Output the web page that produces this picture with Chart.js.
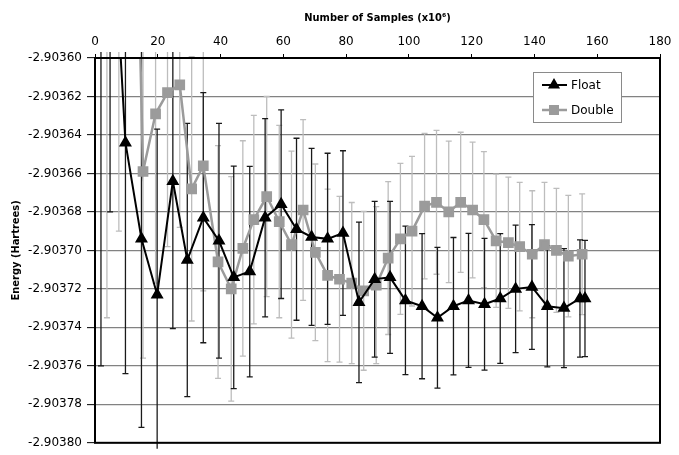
<!DOCTYPE html>
<html>
<head>
<meta charset="utf-8">
<script src="https://cdn.jsdelivr.net/npm/chart.js@4"></script>
<style>
  html, body { margin: 0; padding: 0; background: #fff; }
</style>
</head>
<body>
<canvas id="chart" width="679" height="455"></canvas>
<script>
// tick values
const xTicks = [0, 20, 40, 60, 80, 100, 120, 140, 160, 180];
const yTicks = [-2.90380, -2.90378, -2.90376, -2.90374, -2.90372, -2.90370,
                -2.90368, -2.90366, -2.90364, -2.90362, -2.90360];

// Float series (samples x10^6, energy, half error)
const floatX = [1.9, 4.8, 9.7, 14.8, 19.8, 24.8, 29.4, 34.5, 39.5, 44.2, 49.3,
  54.2, 59.3, 64.2, 69.0, 74.1, 79.0, 84.1, 89.1, 94.0, 98.9, 104.2, 109.1,
  114.2, 119.0, 124.1, 129.1, 134.0, 139.2, 144.1, 149.4, 154.5, 156.1];
const floatY = [-2.90345, -2.90350, -2.903644, -2.903694, -2.903723, -2.903664,
  -2.903705, -2.903683, -2.903695, -2.903714, -2.903711, -2.903683, -2.903676,
  -2.903689, -2.903693, -2.903694, -2.903691, -2.903727, -2.903715, -2.903714,
  -2.903726, -2.903729, -2.903735, -2.903729, -2.903726, -2.903728, -2.903725,
  -2.903720, -2.903719, -2.903729, -2.903730, -2.903725, -2.903725];
const floatErr = [31, 18, 12, 9.8, 8.6, 7.67, 7.1, 6.5, 6.1, 5.78, 5.47, 5.15,
  4.9, 4.73, 4.6, 4.45, 4.28, 4.17, 4.05, 3.95, 3.86, 3.77, 3.66, 3.57, 3.48,
  3.42, 3.37, 3.31, 3.24, 3.15, 3.09, 3.05, 3.02]; // x1e-5

// Double series
const doubleX = [3.8, 7.6, 11.5, 15.3, 19.3, 23.1, 27.0, 30.8, 34.5, 39.2, 43.4,
  47.1, 50.6, 54.7, 58.7, 62.6, 66.3, 70.2, 74.1, 77.9, 81.8, 85.6, 89.6, 93.4,
  97.3, 101.0, 105.0, 108.8, 112.7, 116.5, 120.3, 123.9, 127.8, 131.7, 135.3,
  139.3, 143.2, 147.0, 150.8, 155.2];
const doubleY = [-2.90345, -2.90345, -2.90339, -2.903659, -2.903629, -2.903618,
  -2.903614, -2.903668, -2.903656, -2.903706, -2.903720, -2.903699, -2.903684,
  -2.903672, -2.903685, -2.903697, -2.903679, -2.903701, -2.903713, -2.903715,
  -2.903717, -2.903721, -2.903718, -2.903704, -2.903694, -2.903690, -2.903677,
  -2.903675, -2.903680, -2.903675, -2.903679, -2.903684, -2.903695, -2.903696,
  -2.903698, -2.903702, -2.903697, -2.903700, -2.903703, -2.903702];
const doubleErr = [28.5, 24, 18, 9.7, 8.8, 8.0, 7.4, 6.87, 6.5, 6.05, 5.83, 5.6,
  5.42, 5.2, 5.0, 4.86, 4.7, 4.59, 4.48, 4.31, 4.19, 4.13, 4.08, 3.97, 3.92,
  3.89, 3.78, 3.74, 3.68, 3.64, 3.53, 3.53, 3.46, 3.41, 3.34, 3.3, 3.24, 3.22,
  3.16, 3.14]; // x1e-5

function points(xs, ys, errs) {
  return xs.map((x, i) => ({ x: x, y: ys[i], e: errs[i] * 1e-5 }));
}

const errorBars = {
  id: 'errorBars',
  beforeDatasetsDraw(chart) {
    const { ctx, chartArea: a, scales } = chart;
    ctx.save();
    ctx.beginPath();
    ctx.rect(a.left, a.top - 6, a.right - a.left, a.bottom - a.top + 12);
    ctx.clip();
    for (let i = chart.data.datasets.length - 1; i >= 0; i--) {
      const ds = chart.data.datasets[i];
      ctx.strokeStyle = ds.errorColor;
      ctx.lineWidth = 1.3;
      ds.data.forEach(p => {
        const px = scales.x.getPixelForValue(p.x);
        const hi = scales.y.getPixelForValue(p.y + p.e);
        const lo = scales.y.getPixelForValue(p.y - p.e);
        ctx.beginPath();
        ctx.moveTo(px, hi); ctx.lineTo(px, lo);
        ctx.moveTo(px - 3, hi); ctx.lineTo(px + 3, hi);
        ctx.moveTo(px - 3, lo); ctx.lineTo(px + 3, lo);
        ctx.stroke();
      });
    }
    ctx.restore();
  }
};

const frameAndLegend = {
  id: 'frameAndLegend',
  afterDraw(chart) {
    const { ctx, chartArea: a } = chart;
    ctx.save();
    ctx.strokeStyle = '#000';
    ctx.lineWidth = 2;
    ctx.strokeRect(a.left, a.top, a.right - a.left, a.bottom - a.top);

    // legend box
    const bx = 533, by = 72, bw = 88, bh = 50;
    ctx.fillStyle = '#fff';
    ctx.fillRect(bx, by, bw, bh);
    ctx.strokeStyle = '#8a8a8a';
    ctx.lineWidth = 1;
    ctx.strokeRect(bx + 0.5, by + 0.5, bw, bh);
    ctx.font = '12px "DejaVu Sans", sans-serif';
    ctx.textBaseline = 'middle';
    chart.data.datasets.forEach((ds, i) => {
      const ly = by + 13 + i * 25;
      ctx.strokeStyle = ds.borderColor;
      ctx.lineWidth = ds.borderWidth;
      ctx.beginPath();
      ctx.moveTo(bx + 9, ly); ctx.lineTo(bx + 34, ly);
      ctx.stroke();
      ctx.fillStyle = ds.pointBackgroundColor;
      ctx.strokeStyle = ds.pointBorderColor;
      Chart.helpers.drawPoint(ctx, { pointStyle: ds.pointStyle, radius: ds.pointRadius - 0.5, borderWidth: 1, rotation: 0 }, bx + 21, ly);
      ctx.fillStyle = '#000';
      ctx.fillText(ds.label, bx + 38, ly + 1);
    });
    ctx.restore();
  }
};

new Chart(document.getElementById('chart'), {
  type: 'scatter',
  data: {
    datasets: [
      {
        label: 'Float',
        data: points(floatX, floatY, floatErr),
        showLine: true,
        borderColor: '#000',
        borderWidth: 2,
        pointStyle: 'triangle',
        pointRadius: 5.5,
        pointBackgroundColor: '#000',
        pointBorderColor: '#000',
        errorColor: '#1a1a1a',
        clip: 1
      },
      {
        label: 'Double',
        data: points(doubleX, doubleY, doubleErr),
        showLine: true,
        borderColor: '#9b9b9b',
        borderWidth: 2.5,
        pointStyle: 'rect',
        pointRadius: 5.8,
        pointBackgroundColor: '#9b9b9b',
        pointBorderColor: '#9b9b9b',
        errorColor: '#bdbdbd',
        clip: 1
      }
    ]
  },
  options: {
    responsive: false,
    animation: false,
    layout: { padding: { left: 0, top: 0, right: 19, bottom: 6 } },
    plugins: { legend: { display: false }, tooltip: { enabled: false } },
    scales: {
      x: {
        type: 'linear',
        position: 'top',
        min: 0, max: 180,
        afterBuildTicks: s => { s.ticks = xTicks.map(v => ({ value: v })); },
        afterFit: s => { s.height = 58; },
        grid: { drawOnChartArea: false, tickLength: 4, tickColor: '#000', tickWidth: 1 },
        border: { color: '#000', width: 2 },
        ticks: { color: '#000', padding: 5, font: { family: 'DejaVu Sans', size: 12 } },
        title: {
          display: true,
          text: 'Number of Samples (x10⁶)',
          color: '#000',
          font: { family: '"DejaVu Sans Condensed", "DejaVu Sans"', size: 11, weight: 'bold' },
          padding: { top: 12, bottom: 0 }
        }
      },
      y: {
        type: 'linear',
        min: -2.90380, max: -2.90360,
        afterBuildTicks: s => { s.ticks = yTicks.map(v => ({ value: v })); },
        afterFit: s => { s.width = 95; },
        grid: { color: '#828282', lineWidth: 1.3, tickLength: 8, tickColor: '#000', tickWidth: 1 },
        border: { color: '#000', width: 2 },
        ticks: {
          color: '#000', padding: 5,
          font: { family: 'DejaVu Sans', size: 12 },
          callback: v => v.toFixed(5)
        },
        title: {
          display: true,
          text: 'Energy (Hartrees)',
          color: '#000',
          font: { family: '"DejaVu Sans Condensed", "DejaVu Sans"', size: 11, weight: 'bold' },
          padding: { top: 10, bottom: 0 }
        }
      }
    }
  },
  plugins: [errorBars, frameAndLegend]
});
</script>
</body>
</html>
